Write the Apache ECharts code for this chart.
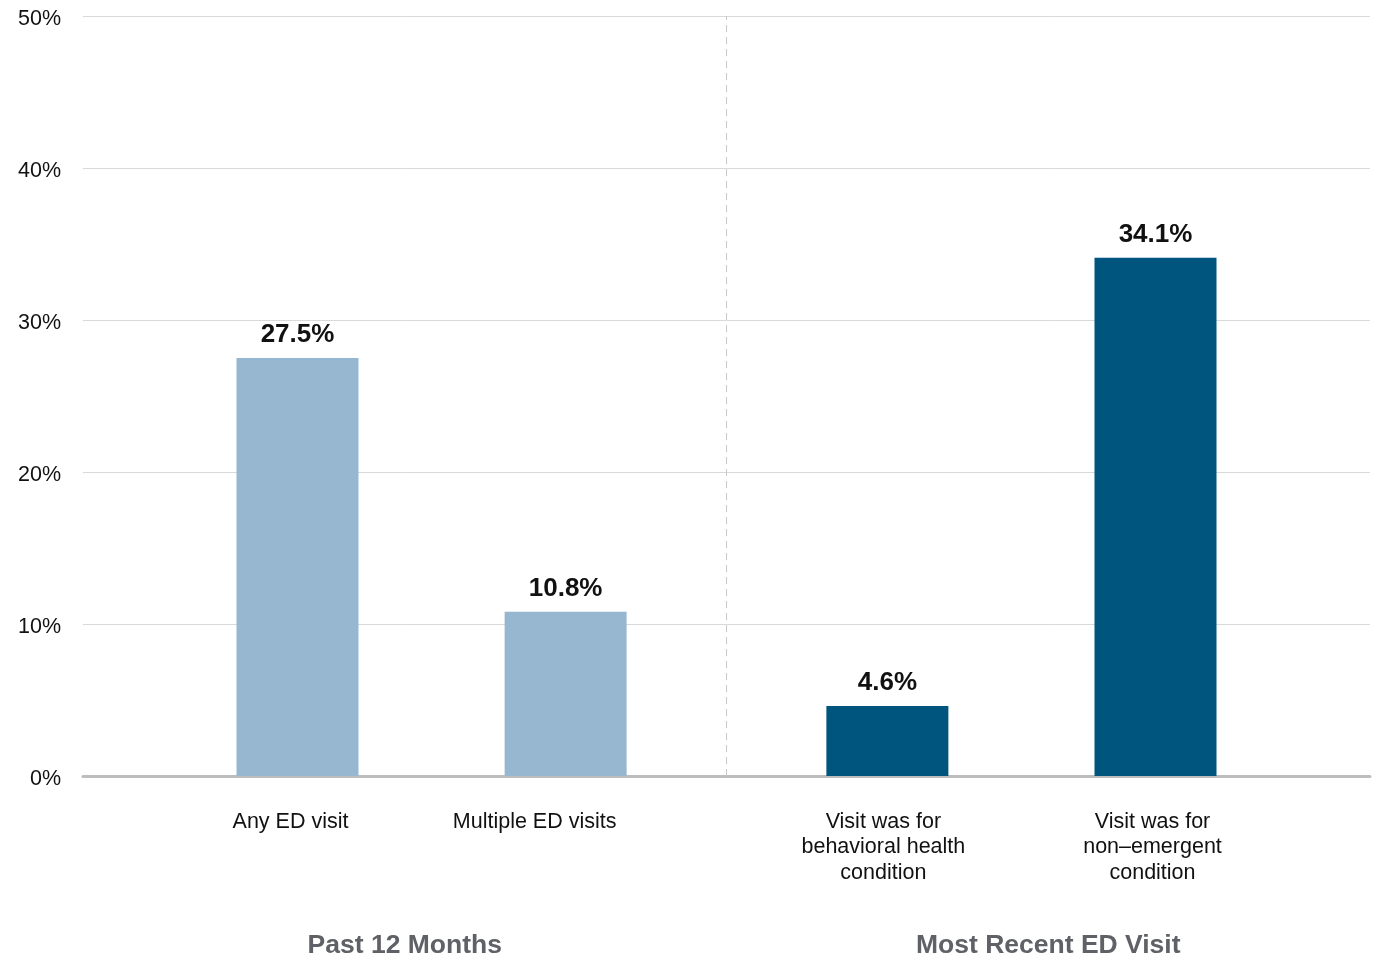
<!DOCTYPE html>
<html>
<head>
<meta charset="utf-8">
<script src="https://cdn.jsdelivr.net/npm/echarts@6/dist/echarts.min.js"></script>
<style>
  html, body { margin: 0; padding: 0; background: #fff; }
  #chart { width: 1374px; height: 958px; }
</style>
</head>
<body>
<div id="chart"></div>
<script>
// ED use among respondents
const categories = [
  'Any ED visit',
  'Multiple ED visits',
  'Visit was for\nbehavioral health\ncondition',
  'Visit was for\nnon\u2013emergent\ncondition'
];
const values = [27.5, 10.8, 4.6, 34.1];
const groups = ['Past 12 Months', 'Most Recent ED Visit'];
const groupOf = [0, 0, 1, 1];
const yTicks = [0, 10, 20, 30, 40, 50];

const groupColors = ['#97b7d1', '#00557f'];
const FONT = "'Liberation Sans', Arial, Helvetica, sans-serif";
// leftward nudge (px) of each category label relative to its bar
const labelNudge = [7, 31, 4, 3];

// Category slots: blank spacer slots spread the bars, with a divider slot between groups
const spacing = [4, 5, 6, 5, 4]; // slots before, between, and after the bars
const slots = [];
const barSlot = [];
for (let i = 0; i < spacing[0]; i++) slots.push('');
categories.forEach((c, i) => {
  barSlot.push(slots.length);
  slots.push({ value: c, textStyle: { padding: [0, labelNudge[i] * 2, 0, 0] } });
  const n = spacing[i + 1] - 1;
  for (let k = 0; k < n; k++) slots.push('');
});
while (slots.length < spacing.reduce((a, b) => a + b, 0) + 1) slots.push('');
const dividerSlot = (barSlot[1] + barSlot[2]) / 2;

const seriesData = slots.map(() => null);
barSlot.forEach((s, i) => {
  seriesData[s] = {
    value: values[i],
    itemStyle: { color: groupColors[groupOf[i]] }
  };
});

const chart = echarts.init(document.getElementById('chart'), null, { renderer: 'canvas' });

const gridLeft = 83, gridRight = 4, gridTop = 16, gridBottom = 182;
const plotW = 1374 - gridLeft - gridRight;

chart.setOption({
  animation: false,
  backgroundColor: '#ffffff',
  grid: { left: gridLeft, right: gridRight, top: gridTop, bottom: gridBottom, containLabel: false },
  xAxis: {
    type: 'category',
    data: slots,
    boundaryGap: false,
    axisLine: { show: true, lineStyle: { color: '#bdbdc0', width: 3 } },
    axisTick: { show: false },
    splitLine: { show: false },
    axisLabel: {
      interval: 0,
      margin: 33,
      fontFamily: FONT,
      fontSize: 21.5,
      lineHeight: 25.5,
      color: '#111111',
      align: 'center',
      verticalAlign: 'top'
    }
  },
  yAxis: {
    type: 'value',
    min: yTicks[0],
    max: yTicks[yTicks.length - 1],
    interval: 10,
    axisLine: { show: false },
    axisTick: { show: false },
    splitLine: { lineStyle: { color: '#d9d9d9', width: 1 } },
    axisLabel: {
      margin: 22,
      formatter: v => '{t|' + v + '%}',
      rich: {
        t: {
          fontFamily: FONT,
          fontSize: 21.5,
          color: '#111111',
          padding: [6, 0, 0, 0]
        }
      }
    }
  },
  series: [{
    type: 'bar',
    data: seriesData,
    barWidth: 122,
    z: 3,
    label: {
      show: true,
      position: 'top',
      distance: 10,
      formatter: p => p.value.toFixed(1) + '%',
      fontFamily: FONT,
      fontWeight: 'bold',
      fontSize: 26,
      color: '#111111',
      backgroundColor: '#ffffff',
      padding: [1, 6, 0, 6]
    },
    markLine: {
      silent: true,
      symbol: 'none',
      label: { show: false },
      lineStyle: { color: '#c8c8c8', type: [7, 5], width: 1 },
      z: 1,
      data: [{ xAxis: dividerSlot }]
    }
  }],
  graphic: groups.map((g, i) => ({
    type: 'text',
    x: gridLeft + plotW * (i * 2 + 1) / 4,
    y: 946,
    style: {
      text: g,
      font: "bold 26.5px " + FONT,
      fill: '#5f6166',
      textAlign: 'center',
      textVerticalAlign: 'middle'
    }
  }))
});
</script>
</body>
</html>
